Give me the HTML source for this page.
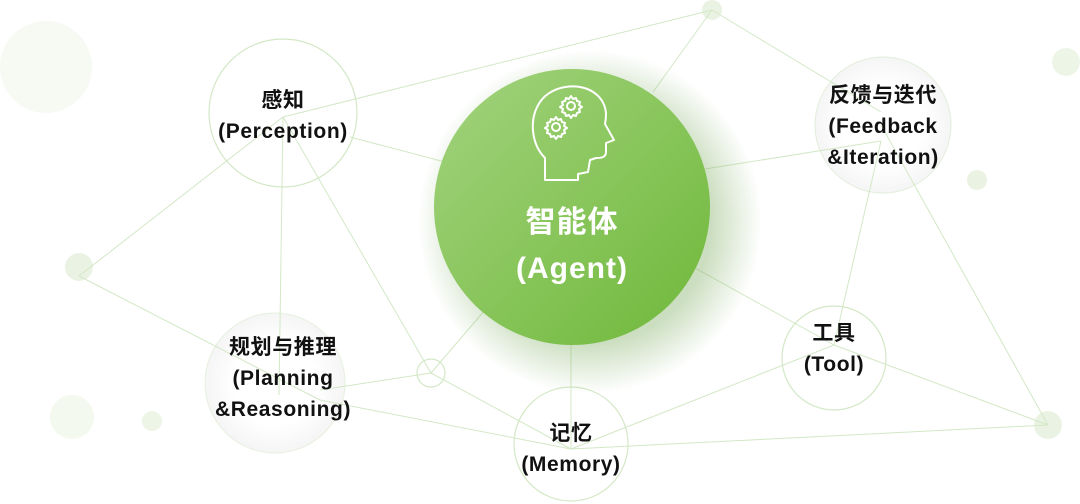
<!DOCTYPE html>
<html><head><meta charset="utf-8"><style>
html,body{margin:0;padding:0;background:#fff;}
body{width:1080px;height:504px;overflow:hidden;position:relative;font-family:"Liberation Sans","Noto Sans CJK SC",sans-serif;}
svg{position:absolute;left:0;top:0;}
.t{position:absolute;text-align:center;font-weight:bold;color:#111;font-size:21px;letter-spacing:0.6px;line-height:31px;white-space:nowrap;transform:translateX(-50%);}
</style></head><body>
<svg width="1080" height="504" viewBox="0 0 1080 504">
<defs>
<linearGradient id="ag" x1="0" y1="0" x2="1" y2="1"><stop offset="0" stop-color="#a3d37e"/><stop offset="1" stop-color="#6fb83a"/></linearGradient>
<radialGradient id="sh" cx="50%" cy="50%" r="50%"><stop offset="0.7" stop-color="#6aa04a" stop-opacity="0.35"/><stop offset="1" stop-color="#6aa04a" stop-opacity="0"/></radialGradient>
<radialGradient id="nd" cx="50%" cy="50%" r="50%"><stop offset="0.6" stop-color="#fff"/><stop offset="1" stop-color="#f5f5f5"/></radialGradient>
</defs>
<circle cx="46" cy="67" r="46" fill="#f6faf3"/>
<circle cx="72" cy="417" r="22" fill="#f4f9f0"/>
<circle cx="152" cy="421" r="10" fill="#edf5e7"/>
<circle cx="1066" cy="62" r="14" fill="#edf5e7"/>
<circle cx="977" cy="180" r="10" fill="#eaf3e3"/>
<circle cx="712" cy="10" r="10" fill="#eaf3e3"/>
<circle cx="79" cy="267" r="14" fill="#eaf3e3"/>
<circle cx="1048" cy="425" r="14" fill="#eaf3e3"/>
<circle cx="275" cy="383" r="70" fill="url(#nd)" stroke="#e6f0df" stroke-width="1"/>
<circle cx="883" cy="125" r="68" fill="url(#nd)" stroke="#e3eedb" stroke-width="1"/>
<g stroke="#d3e8c6" stroke-width="1" fill="none">
<line x1="283" y1="117" x2="79" y2="276"/>
<line x1="283" y1="117" x2="279" y2="395"/>
<line x1="283" y1="117" x2="431" y2="373"/>
<line x1="283" y1="117" x2="712" y2="10"/>
<line x1="350" y1="137" x2="445" y2="162"/>
<line x1="79" y1="276" x2="320" y2="400"/>
<line x1="320" y1="400" x2="571" y2="449"/>
<line x1="320" y1="390" x2="431" y2="373"/>
<line x1="431" y1="373" x2="571" y2="449"/>
<line x1="431" y1="373" x2="485" y2="310"/>
<line x1="571" y1="449" x2="571" y2="340"/>
<line x1="571" y1="449" x2="834" y2="345"/>
<line x1="571" y1="449" x2="1048" y2="425"/>
<line x1="834" y1="345" x2="1048" y2="425"/>
<line x1="834" y1="345" x2="695" y2="268"/>
<line x1="834" y1="345" x2="881" y2="141"/>
<line x1="881" y1="112" x2="712" y2="10"/>
<line x1="881" y1="141" x2="705" y2="169"/>
<line x1="881" y1="125" x2="1048" y2="425"/>
<line x1="712" y1="10" x2="653" y2="92"/>
</g>
<circle cx="283" cy="113" r="74" fill="none" stroke="#d3e8c6" stroke-width="1.2"/>
<circle cx="431" cy="373" r="14" fill="none" stroke="#d3e8c6" stroke-width="1.2"/>
<circle cx="834" cy="358" r="52" fill="none" stroke="#d3e8c6" stroke-width="1.2"/>
<circle cx="571" cy="444" r="57" fill="none" stroke="#d3e8c6" stroke-width="1.2"/>
<circle cx="590" cy="222" r="172" fill="url(#sh)"/>
<circle cx="572" cy="207" r="138" fill="url(#ag)"/>
<g stroke="#fff" stroke-width="2" fill="none" stroke-linejoin="round">
<path d="M545 180 L545 158 C532 145 528 120 540 102 C552 84 585 80 600 98 C608 108 606 118 605 124 L614 140 L606 143 L606 152 C606 158 600 158 596 158 L590 160 L588 172 L578 174 L578 180 Z"/>
<circle cx="571" cy="106" r="4"/>
<path d="M571 96 l2 3 3-1 1 3 3 1-1 3 3 2-3 2 1 3-3 1-1 3-3-1-2 3-2-3-3 1-1-3-3-1 1-3-3-2 3-2-1-3 3-1 1-3 3 1z"/>
<circle cx="556" cy="127" r="4"/>
<path d="M556 117 l2 3 3-1 1 3 3 1-1 3 3 2-3 2 1 3-3 1-1 3-3-1-2 3-2-3-3 1-1-3-3-1 1-3-3-2 3-2-1-3 3-1 1-3 3 1z"/>
</g>
</svg>
<div class="t" style="left:283px;top:85px;">感知<br>(Perception)</div>
<div class="t" style="left:283px;top:332px;">规划与推理<br>(Planning<br>&amp;Reasoning)</div>
<div class="t" style="left:883px;top:80px;">反馈与迭代<br>(Feedback<br>&amp;Iteration)</div>
<div class="t" style="left:834px;top:318px;">工具<br>(Tool)</div>
<div class="t" style="left:571px;top:418px;">记忆<br>(Memory)</div>
<div class="t" style="left:572px;top:200px;color:#fff;font-size:30px;letter-spacing:1px;line-height:46px;">智能体<br>(Agent)</div>
</body></html>
